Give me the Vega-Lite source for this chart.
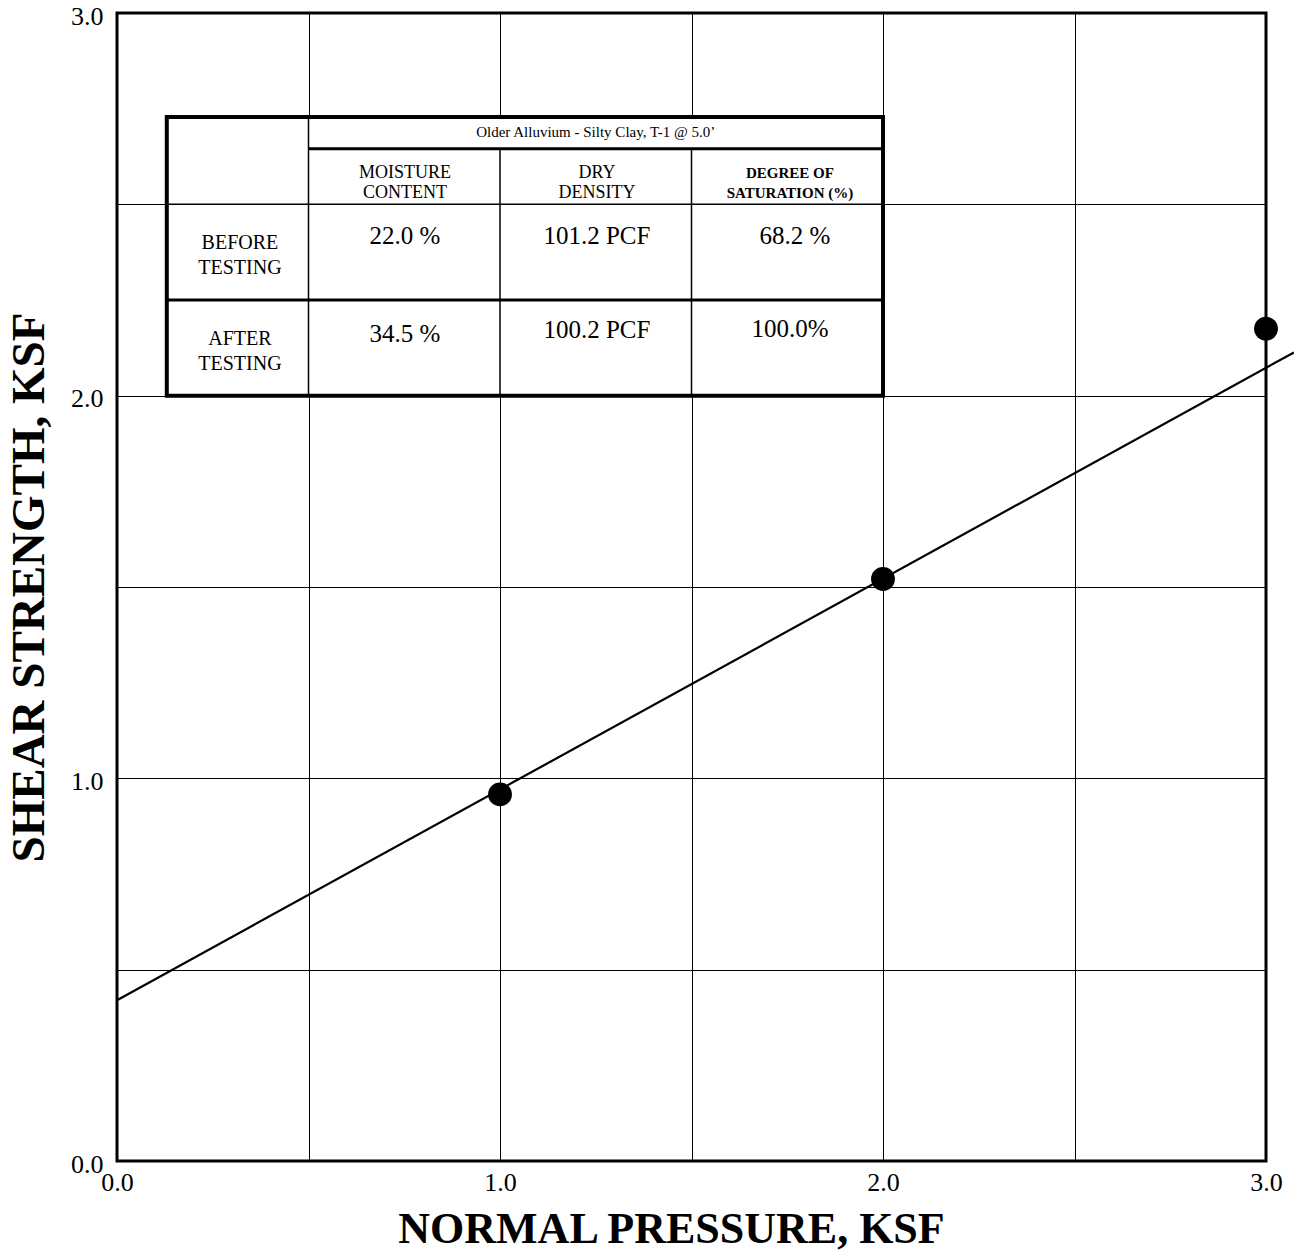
{
  "$schema": "https://vega.github.io/schema/vega-lite/v6.json",
  "width": 1149,
  "height": 1148,
  "autosize": {"type": "none"},
  "padding": {"left": 117, "top": 13, "right": 28, "bottom": 93},
  "background": "white",
  "config": {
    "view": {"stroke": "black", "strokeWidth": 3},
    "font": "Liberation Serif"
  },
  "datasets": {
    "tests": [
      {"normal": 1.0, "shear": 0.958},
      {"normal": 2.0, "shear": 1.521},
      {"normal": 3.0, "shear": 2.175}
    ],
    "fit": [
      {"normal": 0.0, "shear": 0.42},
      {"normal": 3.073, "shear": 2.113}
    ],
    "table": [
      {"row": "title", "col": "all", "text": "Older Alluvium - Silty Clay, T-1 @ 5.0’"},
      {"row": "header", "col": "moisture", "text": ["MOISTURE", "CONTENT"]},
      {"row": "header", "col": "density", "text": ["DRY", "DENSITY"]},
      {"row": "header", "col": "saturation", "text": ["DEGREE OF", "SATURATION (%)"]},
      {"row": "before", "col": "label", "text": ["BEFORE", "TESTING"]},
      {"row": "before", "col": "moisture", "text": "22.0 %"},
      {"row": "before", "col": "density", "text": "101.2 PCF"},
      {"row": "before", "col": "saturation", "text": "68.2 %"},
      {"row": "after", "col": "label", "text": ["AFTER", "TESTING"]},
      {"row": "after", "col": "moisture", "text": "34.5 %"},
      {"row": "after", "col": "density", "text": "100.2 PCF"},
      {"row": "after", "col": "saturation", "text": "100.0%"}
    ]
  },
  "layer": [
    {
      "data": {"name": "fit"},
      "mark": {"type": "line", "color": "black", "strokeWidth": 2.2, "clip": false},
      "encoding": {
        "x": {
          "field": "normal", "type": "quantitative",
          "scale": {"domain": [0, 3], "nice": false, "zero": true},
          "axis": {
            "title": "NORMAL PRESSURE, KSF",
            "values": [0, 0.5, 1, 1.5, 2, 2.5, 3],
            "labelExpr": "datum.value % 1 === 0 ? format(datum.value, '.1f') : ''",
            "grid": true, "gridColor": "black", "gridWidth": 1, "gridOpacity": 1,
            "domain": false, "ticks": false,
            "labelPadding": 8, "labelFont": "Liberation Serif", "labelFontSize": 26,
            "labelColor": "black", "labelFlush": false, "labelOverlap": false,
            "titleFont": "Liberation Serif", "titleFontSize": 44, "titleFontWeight": "bold",
            "titleColor": "black", "titleX": 554, "titleY": 81, "titleBaseline": "alphabetic", "titleAlign": "center"
          }
        },
        "y": {
          "field": "shear", "type": "quantitative",
          "scale": {"domain": [0, 3], "nice": false, "zero": true},
          "axis": {
            "title": "SHEAR STRENGTH, KSF",
            "values": [0, 0.5, 1, 1.5, 2, 2.5, 3],
            "labelExpr": "datum.value % 1 === 0 ? format(datum.value, '.1f') : ''",
            "grid": true, "gridColor": "black", "gridWidth": 1, "gridOpacity": 1,
            "domain": false, "ticks": false,
            "labelPadding": 14, "labelOffset": 3, "labelFont": "Liberation Serif", "labelFontSize": 26,
            "labelColor": "black", "labelFlush": false, "labelOverlap": false,
            "titleFont": "Liberation Serif", "titleFontSize": 47, "titleFontWeight": "bold",
            "titleColor": "black", "titleX": -74, "titleY": 574, "titleBaseline": "alphabetic", "titleAlign": "center", "titleAngle": -90
          }
        }
      }
    },
    {
      "data": {"name": "tests"},
      "mark": {"type": "point", "shape": "circle", "filled": true, "color": "black", "opacity": 1, "size": 570, "clip": false},
      "encoding": {
        "x": {"field": "normal", "type": "quantitative"},
        "y": {"field": "shear", "type": "quantitative"}
      }
    },
    {
      "data": {"values": [{}]},
      "mark": {"type": "rect", "fill": "white", "stroke": "black", "strokeWidth": 4},
      "encoding": {"x": {"datum": 0.13}, "x2": {"datum": 2.0}, "y": {"datum": 2.0}, "y2": {"datum": 2.728}}
    },
    {
      "data": {"values": [{}]},
      "mark": {"type": "rule", "color": "black", "strokeWidth": 1.5},
      "encoding": {"x": {"datum": 0.5}, "y": {"datum": 2.0}, "y2": {"datum": 2.728}}
    },
    {
      "data": {"values": [{}]},
      "mark": {"type": "rule", "color": "black", "strokeWidth": 1.5},
      "encoding": {"x": {"datum": 1.0}, "y": {"datum": 2.0}, "y2": {"datum": 2.645}}
    },
    {
      "data": {"values": [{}]},
      "mark": {"type": "rule", "color": "black", "strokeWidth": 1.5},
      "encoding": {"x": {"datum": 1.5}, "y": {"datum": 2.0}, "y2": {"datum": 2.645}}
    },
    {
      "data": {"values": [{}]},
      "mark": {"type": "rule", "color": "black", "strokeWidth": 3},
      "encoding": {"x": {"datum": 0.5}, "x2": {"datum": 2.0}, "y": {"datum": 2.645}}
    },
    {
      "data": {"values": [{}]},
      "mark": {"type": "rule", "color": "black", "strokeWidth": 1.5},
      "encoding": {"x": {"datum": 0.13}, "x2": {"datum": 2.0}, "y": {"datum": 2.5}}
    },
    {
      "data": {"values": [{}]},
      "mark": {"type": "rule", "color": "black", "strokeWidth": 3},
      "encoding": {"x": {"datum": 0.13}, "x2": {"datum": 2.0}, "y": {"datum": 2.25}}
    },
    {
      "data": {"name": "table"},
      "transform": [{"filter": "datum.row === 'title'"}],
      "mark": {"type": "text", "font": "Liberation Serif", "fontSize": 15, "color": "black", "baseline": "middle"},
      "encoding": {"x": {"datum": 1.25}, "y": {"datum": 2.689}, "text": {"field": "text"}}
    },
    {
      "data": {"name": "table"},
      "transform": [{"filter": "datum.row === 'header' && datum.col === 'moisture'"}],
      "mark": {"type": "text", "font": "Liberation Serif", "fontSize": 18, "lineHeight": 20, "color": "black", "baseline": "middle"},
      "encoding": {"x": {"datum": 0.752}, "y": {"datum": 2.582}, "text": {"field": "text"}}
    },
    {
      "data": {"name": "table"},
      "transform": [{"filter": "datum.row === 'header' && datum.col === 'density'"}],
      "mark": {"type": "text", "font": "Liberation Serif", "fontSize": 18, "lineHeight": 20, "color": "black", "baseline": "middle"},
      "encoding": {"x": {"datum": 1.253}, "y": {"datum": 2.582}, "text": {"field": "text"}}
    },
    {
      "data": {"name": "table"},
      "transform": [{"filter": "datum.row === 'header' && datum.col === 'saturation'"}],
      "mark": {"type": "text", "font": "Liberation Serif", "fontSize": 15, "fontWeight": "bold", "lineHeight": 20, "color": "black", "baseline": "middle"},
      "encoding": {"x": {"datum": 1.757}, "y": {"datum": 2.582}, "text": {"field": "text"}}
    },
    {
      "data": {"name": "table"},
      "transform": [{"filter": "datum.row === 'before' && datum.col === 'label'"}],
      "mark": {"type": "text", "font": "Liberation Serif", "fontSize": 20, "lineHeight": 25, "color": "black", "baseline": "middle"},
      "encoding": {"x": {"datum": 0.321}, "y": {"datum": 2.399}, "text": {"field": "text"}}
    },
    {
      "data": {"name": "table"},
      "transform": [{"filter": "datum.row === 'after' && datum.col === 'label'"}],
      "mark": {"type": "text", "font": "Liberation Serif", "fontSize": 20, "lineHeight": 25, "color": "black", "baseline": "middle"},
      "encoding": {"x": {"datum": 0.321}, "y": {"datum": 2.148}, "text": {"field": "text"}}
    },
    {
      "data": {"name": "table"},
      "transform": [{"filter": "datum.row === 'before' && datum.col === 'moisture'"}],
      "mark": {"type": "text", "font": "Liberation Serif", "fontSize": 25, "color": "black", "baseline": "middle"},
      "encoding": {"x": {"datum": 0.752}, "y": {"datum": 2.417}, "text": {"field": "text"}}
    },
    {
      "data": {"name": "table"},
      "transform": [{"filter": "datum.row === 'before' && datum.col === 'density'"}],
      "mark": {"type": "text", "font": "Liberation Serif", "fontSize": 25, "color": "black", "baseline": "middle"},
      "encoding": {"x": {"datum": 1.253}, "y": {"datum": 2.417}, "text": {"field": "text"}}
    },
    {
      "data": {"name": "table"},
      "transform": [{"filter": "datum.row === 'before' && datum.col === 'saturation'"}],
      "mark": {"type": "text", "font": "Liberation Serif", "fontSize": 25, "color": "black", "baseline": "middle"},
      "encoding": {"x": {"datum": 1.77}, "y": {"datum": 2.417}, "text": {"field": "text"}}
    },
    {
      "data": {"name": "table"},
      "transform": [{"filter": "datum.row === 'after' && datum.col === 'moisture'"}],
      "mark": {"type": "text", "font": "Liberation Serif", "fontSize": 25, "color": "black", "baseline": "middle"},
      "encoding": {"x": {"datum": 0.752}, "y": {"datum": 2.162}, "text": {"field": "text"}}
    },
    {
      "data": {"name": "table"},
      "transform": [{"filter": "datum.row === 'after' && datum.col === 'density'"}],
      "mark": {"type": "text", "font": "Liberation Serif", "fontSize": 25, "color": "black", "baseline": "middle"},
      "encoding": {"x": {"datum": 1.253}, "y": {"datum": 2.172}, "text": {"field": "text"}}
    },
    {
      "data": {"name": "table"},
      "transform": [{"filter": "datum.row === 'after' && datum.col === 'saturation'"}],
      "mark": {"type": "text", "font": "Liberation Serif", "fontSize": 25, "color": "black", "baseline": "middle"},
      "encoding": {"x": {"datum": 1.757}, "y": {"datum": 2.175}, "text": {"field": "text"}}
    }
  ]
}
